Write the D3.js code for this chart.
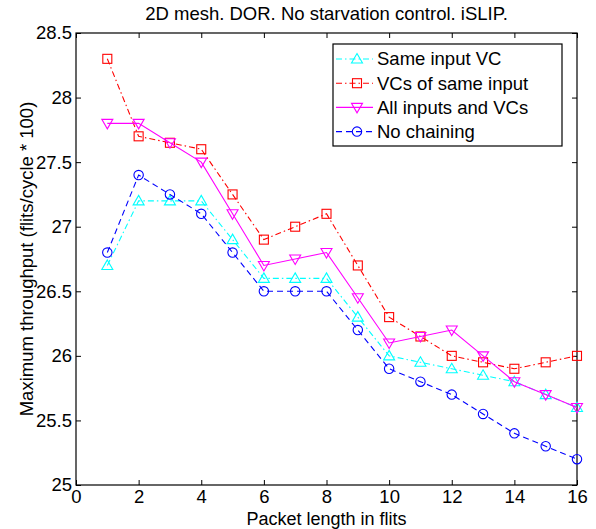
<!DOCTYPE html>
<html><head><meta charset="utf-8">
<script src="https://cdn.jsdelivr.net/npm/d3@7"></script>
<style>body{margin:0;background:#fff;} text{font-family:"Liberation Sans",Arial,Helvetica,sans-serif;}</style>
</head><body>
<svg id="c" width="596" height="529"></svg>
<script>
const packetLengths = [1,2,3,4,5,6,7,8,9,10,11,12,13,14,15,16];
const sameInputVC   = [26.7,27.2,27.2,27.2,26.9,26.6,26.6,26.6,26.3,26.0,25.95,25.9,25.85,25.8,25.7,25.6];
const vcsSameInput  = [28.3,27.7,27.65,27.6,27.25,26.9,27.0,27.1,26.7,26.3,26.15,26.0,25.95,25.9,25.95,26.0];
const allInputsVCs  = [27.8,27.8,27.65,27.5,27.1,26.7,26.75,26.8,26.45,26.1,26.15,26.2,26.0,25.8,25.7,25.6];
const noChaining    = [26.8,27.4,27.25,27.1,26.8,26.5,26.5,26.5,26.2,25.9,25.8,25.7,25.55,25.4,25.3,25.2];
const seriesNames = ["Same input VC","VCs of same input","All inputs and VCs","No chaining"];
const xTicks = [0,2,4,6,8,10,12,14,16];
const yTicks = [25,25.5,26,26.5,27,27.5,28,28.5];

const series = [
  {name:seriesNames[0], values:sameInputVC, color:"#00ffff", dash:"6,3,1.5,3", marker:"up"},
  {name:seriesNames[1], values:vcsSameInput, color:"#ff0000", dash:"6,3,1.5,3", marker:"square"},
  {name:seriesNames[2], values:allInputsVCs, color:"#ff00ff", dash:null, marker:"down"},
  {name:seriesNames[3], values:noChaining, color:"#0000ff", dash:"6,4", marker:"circle"}
];

const FS = 18.5;
const L=76, R=577, T=33, B=485;
const svg = d3.select("#c");
const x = d3.scaleLinear().domain([0,16]).range([L,R]);
const y = d3.scaleLinear().domain([25,28.5]).range([B,T]);

svg.append("rect").attr("x",L).attr("y",T).attr("width",R-L).attr("height",B-T)
  .attr("fill","none").attr("stroke","#000").attr("stroke-width",1.2);

const tl=5;
const fmt = d=>d3.format("~g")(d);
const gb = svg.append("g").attr("transform",`translate(0,${B})`)
  .call(d3.axisBottom(x).tickValues(xTicks).tickSizeInner(-tl).tickSizeOuter(0).tickPadding(4.5).tickFormat(fmt));
const gt = svg.append("g").attr("transform",`translate(0,${T})`)
  .call(d3.axisTop(x).tickValues(xTicks).tickSizeInner(-tl).tickSizeOuter(0).tickFormat(""));
const gl = svg.append("g").attr("transform",`translate(${L},0)`)
  .call(d3.axisLeft(y).tickValues(yTicks).tickSizeInner(-tl).tickSizeOuter(0).tickPadding(4).tickFormat(fmt));
const gr = svg.append("g").attr("transform",`translate(${R},0)`)
  .call(d3.axisRight(y).tickValues(yTicks).tickSizeInner(-tl).tickSizeOuter(0).tickFormat(""));
[gb,gt,gl,gr].forEach(g=>{g.select(".domain").remove();
  g.selectAll("line").attr("stroke","#000");
  g.selectAll("text").attr("font-size",FS).attr("fill","#000").attr("font-family","Liberation Sans, Arial, sans-serif");});

const line = d3.line().x((d,i)=>x(packetLengths[i])).y(d=>y(d));

function drawMarker(g, type, cx, cy, color){
  const sw=1.1;
  if(type==="circle"){
    g.append("circle").attr("cx",cx).attr("cy",cy).attr("r",4.7).attr("fill","none").attr("stroke",color).attr("stroke-width",sw);
  } else if(type==="square"){
    g.append("rect").attr("x",cx-4.5).attr("y",cy-4.5).attr("width",9).attr("height",9).attr("fill","none").attr("stroke",color).attr("stroke-width",sw);
  } else if(type==="up"){
    g.append("path").attr("d",`M${cx},${cy-5.5}L${cx+5.5},${cy+4}L${cx-5.5},${cy+4}Z`).attr("fill","none").attr("stroke",color).attr("stroke-width",sw);
  } else if(type==="down"){
    g.append("path").attr("d",`M${cx},${cy+5.5}L${cx+5.5},${cy-4}L${cx-5.5},${cy-4}Z`).attr("fill","none").attr("stroke",color).attr("stroke-width",sw);
  }
}

series.forEach(s=>{
  const g = svg.append("g");
  g.append("path").datum(s.values).attr("d",line).attr("fill","none")
    .attr("stroke",s.color).attr("stroke-width",1.1).attr("stroke-dasharray",s.dash);
  s.values.forEach((v,i)=>drawMarker(g,s.marker,x(packetLengths[i]),y(v),s.color));
});

svg.append("text").attr("x",(L+R)/2).attr("y",20).attr("text-anchor","middle").attr("font-size",FS).text("2D mesh. DOR. No starvation control. iSLIP.");
svg.append("text").attr("x",(L+R)/2).attr("y",525).attr("text-anchor","middle").attr("font-size",18).text("Packet length in flits");
svg.append("text").attr("transform",`translate(33,${(T+B)/2}) rotate(-90)`).attr("text-anchor","middle").attr("font-size",FS).text("Maximum throughput (flits/cycle * 100)");

const lx=333, ly=44, lw=229, lh=102;
svg.append("rect").attr("x",lx).attr("y",ly).attr("width",lw).attr("height",lh).attr("fill","#fff").attr("stroke","#000").attr("stroke-width",1.2);
series.forEach((s,i)=>{
  const yy = ly+15+i*24.2;
  const g = svg.append("g");
  g.append("line").attr("x1",lx+3).attr("x2",lx+40).attr("y1",yy).attr("y2",yy)
    .attr("stroke",s.color).attr("stroke-width",1.1).attr("stroke-dasharray",s.dash);
  drawMarker(g,s.marker,lx+24,yy,s.color);
  g.append("text").attr("x",lx+44).attr("y",yy).attr("dy","0.35em").attr("font-size",FS).text(s.name);
});
</script>
</body></html>
